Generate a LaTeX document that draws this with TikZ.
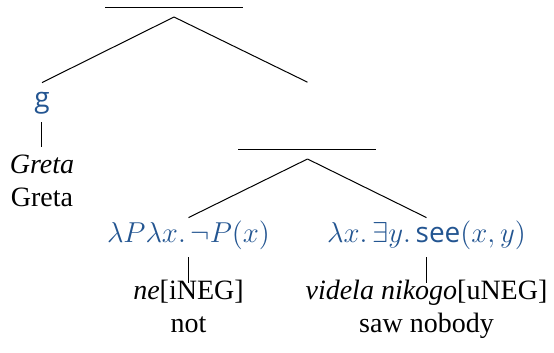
\documentclass[tikz,border=0pt]{standalone}
\usepackage{fontspec}
\setmainfont{Liberation Serif}
\setsansfont{Open Sans}
\usetikzlibrary{positioning}
\definecolor{semblue}{RGB}{35,85,145}

\begin{document}
\begin{tikzpicture}[
  x=0.5pt, y=-0.5pt,
  font=\fontsize{14}{16.5}\selectfont,
  edge/.style={line width=0.5pt},
  bar/.style={inner xsep=0pt, inner ysep=4.5pt, text depth=0pt, anchor=south},
  sem/.style={text=semblue, text height=9pt, text depth=3.5pt, inner sep=3.5pt, anchor=base},
  leaf/.style={align=center, text height=25pt, inner sep=0pt, anchor=base}
]
\useasboundingbox (0,0) rectangle (554,353);

% Blank nodes
\node[bar] (root) at (174,17) {\rule{69pt}{0.5pt}};
\node[bar, text height=29pt] (mid) at (307.5,159) {\rule{69pt}{0.5pt}};

% Meanings
\node[sem] (g) at (42,108) {\textsf{g}};
\node[sem] (lamP) at (188.5,243) {$\lambda P\lambda x.\,\neg P(x)$};
\node[sem] (lamY) at (426.5,243) {$\lambda x.\,\exists y.\,\textsf{see}(x,y)$};

% Words (base is the second line)
\node[leaf, text height=30pt] (greta) at (42,207) {\textit{Greta}\\Greta};
\node[leaf] (ne) at (188.5,333) {\textit{ne}[iNEG]\\not};
\node[leaf] (videla) at (426.5,333) {\textit{videla nikogo}[uNEG]\\saw nobody};

\draw[edge] (root.south) -- (g.north);
\draw[edge] (root.south) -- (mid.north);
\draw[edge] (mid.south) -- (lamP.north);
\draw[edge] (mid.south) -- (lamY.north);
\draw[edge] (g.south) -- (greta.north);
\draw[edge] (lamP.south) -- (ne.north);
\draw[edge] (lamY.south) -- (videla.north);

\end{tikzpicture}
\end{document}
